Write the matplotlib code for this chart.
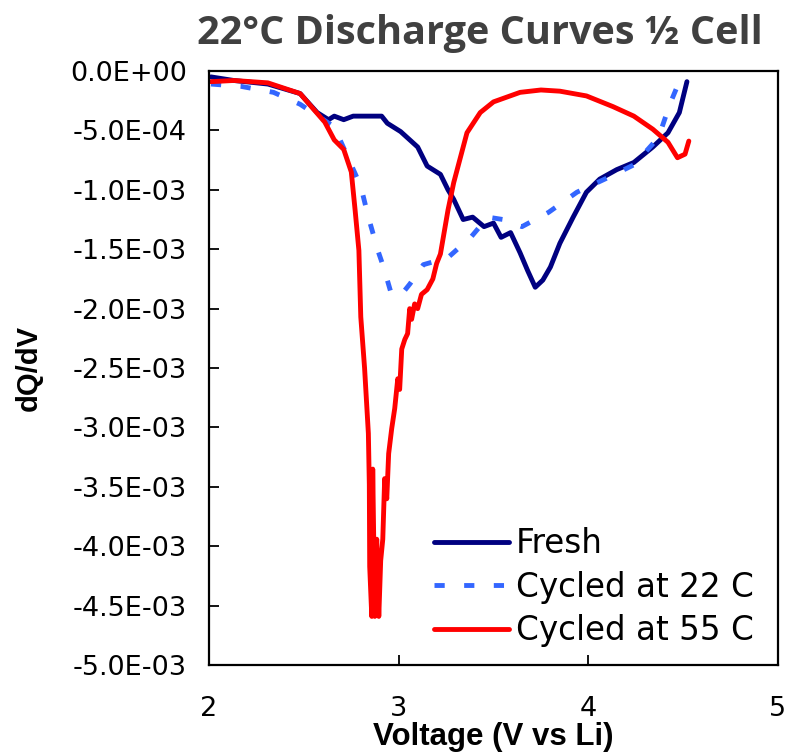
import numpy as np
import matplotlib.pyplot as plt
from matplotlib.ticker import FuncFormatter, MultipleLocator

# === Data (voltage in V, dQ/dV in units of 1e-3) ===
fresh_v = [2.01, 2.13, 2.31, 2.48, 2.57, 2.63, 2.66, 2.71, 2.76, 2.84, 2.91, 2.94,
           3.01, 3.10, 3.15, 3.22, 3.26, 3.29, 3.34, 3.39, 3.45, 3.50, 3.54, 3.59,
           3.64, 3.68, 3.72, 3.76, 3.80, 3.85, 3.92, 3.99, 4.06, 4.15, 4.24, 4.34,
           4.42, 4.48, 4.52]
fresh_q = [-0.05, -0.08, -0.11, -0.19, -0.35, -0.41, -0.38, -0.41, -0.38, -0.38, -0.38, -0.44,
           -0.51, -0.64, -0.80, -0.87, -1.00, -1.08, -1.25, -1.23, -1.31, -1.28, -1.40, -1.36,
           -1.53, -1.68, -1.82, -1.76, -1.65, -1.45, -1.23, -1.02, -0.91, -0.83, -0.77, -0.64,
           -0.52, -0.35, -0.09]

c22_v = [2.01, 2.17, 2.34, 2.48, 2.66, 2.73, 2.80, 2.84, 2.89, 2.92, 2.96, 3.01,
         3.06, 3.13, 3.26, 3.38, 3.47, 3.55, 3.65, 3.79, 3.94, 4.10, 4.24, 4.37,
         4.43, 4.50]
c22_q = [-0.11, -0.13, -0.18, -0.28, -0.47, -0.72, -0.97, -1.23, -1.51, -1.65, -1.87, -1.89,
         -1.79, -1.63, -1.57, -1.40, -1.23, -1.25, -1.31, -1.19, -1.02, -0.90, -0.79, -0.56,
         -0.28, -0.01]

c55_v = [2.01, 2.13, 2.31, 2.48, 2.55, 2.61, 2.66, 2.71, 2.75, 2.77, 2.79, 2.80,
         2.82, 2.84, 2.845, 2.847, 2.858, 2.863, 2.874, 2.884, 2.895, 2.905, 2.916, 2.926,
         2.937, 2.947, 2.963, 2.979, 2.995, 3.005, 3.016, 3.032, 3.047, 3.058, 3.068, 3.084,
         3.10, 3.12, 3.15, 3.18, 3.20, 3.22, 3.26, 3.29, 3.36, 3.43, 3.50, 3.64,
         3.75, 3.85, 3.99, 4.13, 4.24, 4.34, 4.42, 4.47, 4.51, 4.53]
c55_q = [-0.09, -0.08, -0.10, -0.19, -0.32, -0.43, -0.58, -0.66, -0.85, -1.17, -1.51, -2.07,
         -2.50, -3.05, -3.48, -4.17, -4.59, -3.35, -4.59, -3.94, -4.59, -4.12, -3.94, -3.43,
         -3.60, -3.22, -3.01, -2.84, -2.59, -2.68, -2.34, -2.26, -2.21, -2.00, -2.09, -1.96,
         -2.00, -1.88, -1.84, -1.75, -1.62, -1.54, -1.17, -0.94, -0.52, -0.35, -0.26, -0.18,
         -0.16, -0.17, -0.21, -0.30, -0.38, -0.49, -0.60, -0.73, -0.70, -0.59]

series_labels = ["Fresh", "Cycled at 22 C", "Cycled at 55 C"]

# === Styling ===
plt.rcParams.update({
    "font.family": "DejaVu Sans",
    "font.size": 19,
})

fig = plt.figure(figsize=(7.89, 7.55), dpi=100)
ax = fig.add_axes([0.265, 0.119, 0.721, 0.787])

lw = 3.5
ax.plot(fresh_v, np.array(fresh_q) * 1e-3, color="#000080", lw=lw, label=series_labels[0],
        solid_capstyle="round", solid_joinstyle="round")
ax.plot(c22_v, np.array(c22_q) * 1e-3, color="#3366FF", lw=lw, label=series_labels[1],
        linestyle=(0, (2.1, 4.0)), dash_capstyle="butt")
ax.plot(c55_v, np.array(c55_q) * 1e-3, color="#FF0000", lw=lw, label=series_labels[2],
        solid_capstyle="round", solid_joinstyle="round")

ax.set_xlim(2, 5)
ax.set_ylim(-5e-3, 0)
ax.xaxis.set_major_locator(MultipleLocator(1))
ax.yaxis.set_major_locator(MultipleLocator(5e-4))
ax.yaxis.set_major_formatter(FuncFormatter(lambda v, p: f"{v:.1E}"))
ax.tick_params(axis="both", direction="in", length=7, width=1.3, labelsize=19.5)
ax.tick_params(axis="x", pad=22)
ax.tick_params(axis="y", pad=16)
for s in ax.spines.values():
    s.set_linewidth(1.6)

ax.set_xlabel("Voltage (V vs Li)", family="Liberation Sans", fontweight="bold",
              fontsize=22.5, labelpad=0)
ax.set_ylabel("dQ/dV", family="Liberation Sans", fontweight="bold", fontsize=21)
ax.yaxis.set_label_coords(-0.292, 0.5)

fig.text(0.608, 0.956, "22°C Discharge Curves ½ Cell", family="Open Sans",
         fontweight="bold", fontsize=28.5, color="#404040", ha="center", va="center")

ax.legend(loc="lower left", bbox_to_anchor=(0.395, 0.03), frameon=False, fontsize=23.5,
          borderpad=0, borderaxespad=0, handlelength=2.3, handletextpad=0.22,
          labelspacing=0.32)

fig.savefig("out.png", dpi=100)
